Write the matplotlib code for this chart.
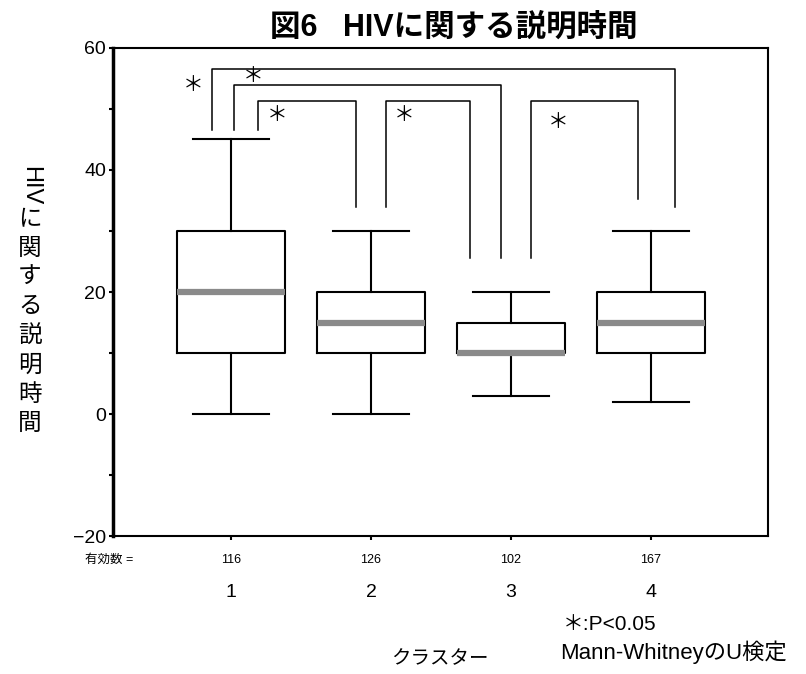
import matplotlib.pyplot as plt

plt.rcParams['font.family'] = ['Liberation Sans', 'Noto Sans CJK JP', 'DejaVu Sans']

# cluster summary values
clusters = ['1', '2', '3', '4']
counts = [116, 126, 102, 167]
whis_lo = [0, 0, 3, 2]
q1 = [10, 10, 10, 10]
median = [20, 15, 10, 15]
q3 = [30, 20, 15, 20]
whis_hi = [45, 30, 20, 30]

# significance brackets: (x_left, x_right, y_top, y_left_end, y_right_end, star_x, star_y)
brackets = [
    (0.864, 4.17, 56.6, 46.6, 34.0, 0.73, 54.0),
    (1.02, 2.93, 54.0, 46.6, 25.6, 1.16, 55.4),
    (1.19, 1.89, 51.3, 46.6, 34.0, 1.33, 49.0),
    (2.11, 2.71, 51.3, 34.0, 25.6, 2.24, 49.0),
    (3.14, 3.91, 51.3, 25.6, 35.3, 3.34, 47.9),
]

fig = plt.figure(figsize=(8.06, 6.74), dpi=100)
ax = fig.add_axes([0.140, 0.2047, 0.813, 0.7241])

stats = []
for i in range(len(clusters)):
    stats.append(dict(med=median[i], q1=q1[i], q3=q3[i],
                      whislo=whis_lo[i], whishi=whis_hi[i], fliers=[]))

pos = list(range(1, len(clusters) + 1))
ax.bxp(stats, positions=pos, widths=0.77, capwidths=0.54, showfliers=False,
       boxprops=dict(color='black', linewidth=1.5),
       whiskerprops=dict(color='black', linewidth=1.5),
       capprops=dict(color='black', linewidth=1.5),
       medianprops=dict(color='#8a8a8a', linewidth=4.5, solid_capstyle='butt'))

for xl, xr, yt, yle, yre, sx, sy in brackets:
    ax.plot([xl, xl, xr, xr], [yle, yt, yt, yre], color='black', lw=1.1)
    ax.text(sx, sy, '＊', fontsize=15, ha='center', va='center',
            family='Noto Sans CJK JP')

ax.set_xlim(0.157, 4.836)
ax.set_ylim(-20, 60)
ax.set_yticks([-20, 0, 20, 40, 60])
ax.set_yticks([-10, 10, 30, 50], minor=True)
ax.set_xticks(pos)
ax.set_xticklabels([])
ax.tick_params(axis='y', which='both', direction='out', length=3, width=1.5, labelsize=14, pad=2)
ax.tick_params(axis='x', which='both', direction='out', length=3, width=1.5)
ax.set_yticklabels(['−20', '0', '20', '40', '60'])
for sp in ax.spines.values():
    sp.set_linewidth(1.5)
ax.spines['left'].set_linewidth(2.5)

# counts row and cluster labels
trans = ax.get_xaxis_transform()
fig.text(85 / 806, 1 - 560 / 674, '有効数 =', fontsize=9, va='center', ha='left')
for p, c, lab in zip(pos, counts, clusters):
    ax.text(p, -0.05, str(c), transform=trans, fontsize=9, ha='center', va='center')
    ax.text(p, -0.115, lab, transform=trans, fontsize=14, ha='center', va='center')

fig.text(440 / 806, 1 - 660 / 674, 'クラスター', fontsize=14, ha='center', va='center')
fig.text(563 / 806, 1 - 625 / 674, '＊:P<0.05', fontsize=15, ha='left', va='center')
fig.text(560 / 806, 1 - 652 / 674, 'Mann-WhitneyのU検定', fontsize=16, ha='left', va='center')

# vertical y label
fig.text(30 / 806, 1 - 186 / 674, 'HIV', fontsize=17, rotation=-90, ha='center', va='center')
fig.text(30 / 806, 1 - 322 / 674, 'に\n関\nす\nる\n説\n明\n時\n間', fontsize=17,
         ha='center', va='center', linespacing=1.42)

fig.text(454 / 806, 1 - 28 / 674, '図6   HIVに関する説明時間', fontsize=22,
         fontweight='bold', ha='center', va='center')

fig.savefig('out.png', dpi=100)
